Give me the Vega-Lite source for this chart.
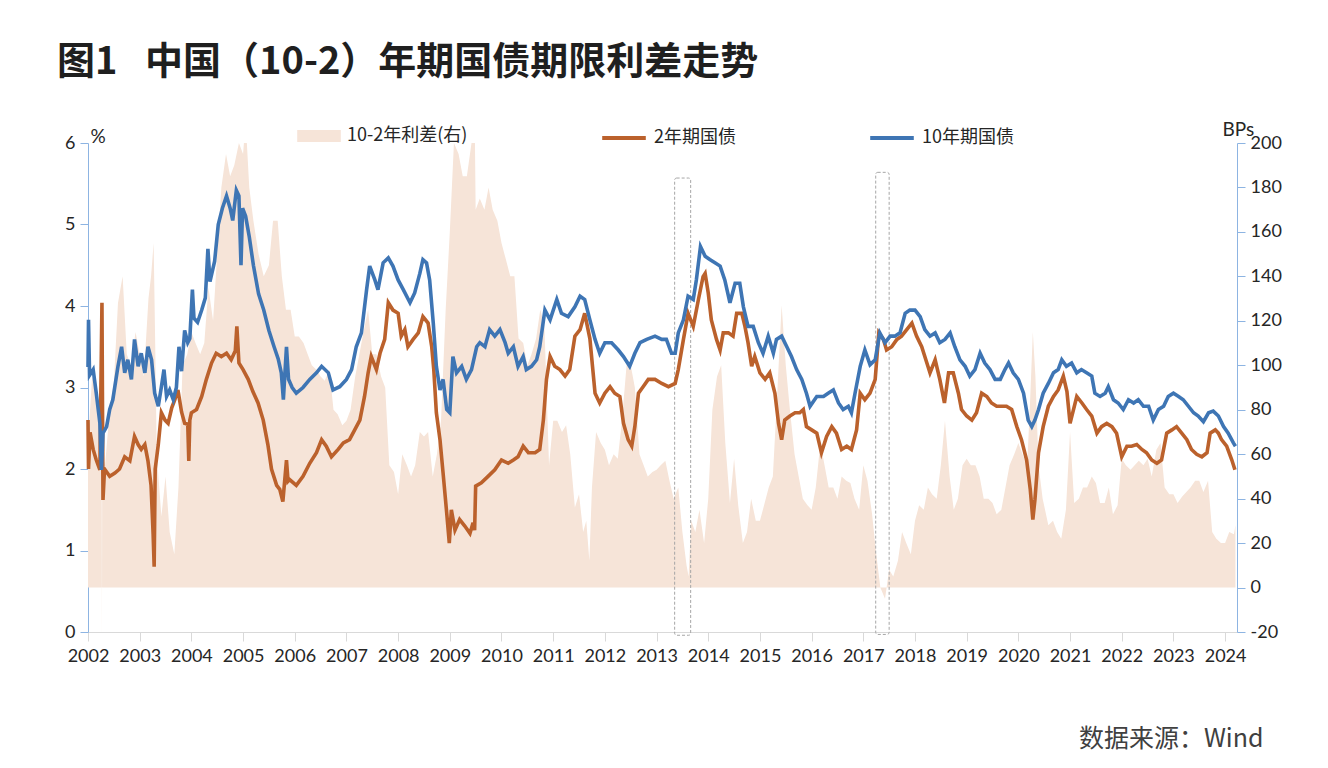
{
"$schema":"https://vega.github.io/schema/vega-lite/v6.json",
"width":1149,"height":489,
"autosize":{"type":"none"},
"padding":{"left":88,"top":143,"right":91,"bottom":136},
"background":"white",
"title":{"text":"图1\u2002 中国（10-2）年期国债期限利差走势","anchor":"start","frame":"group","dx":-31,"offset":2,"font":"Noto Sans CJK SC","fontSize":38,"fontWeight":"bold","color":"#1f1f1f","baseline":"alphabetic"},
"config":{"view":{"stroke":null},"axis":{"grid":false,"labelFont":"Lato","labelFontSize":18,"labelColor":"#262626","titleFont":"Lato","titleFontWeight":"normal","titleColor":"#262626"},
 "legend":{"orient":"none","direction":"horizontal","title":null,"symbolSize":1900,"labelFont":"Noto Sans CJK SC","labelFontSize":18,"labelColor":"#262626","labelOffset":6,"symbolOpacity":1}},
"datasets":{
"y10":[
{"year":2002.0,"rate":3.25},{"year":2002.01,"rate":3.83},{"year":2002.03,"rate":3.15},{"year":2002.1,"rate":3.22},{"year":2002.16,"rate":2.93},{"year":2002.23,"rate":2.56},{"year":2002.26,"rate":1.99},{"year":2002.29,"rate":2.44},{"year":2002.36,"rate":2.52},{"year":2002.42,"rate":2.73},{"year":2002.48,"rate":2.85},{"year":2002.58,"rate":3.26},{"year":2002.65,"rate":3.5},{"year":2002.71,"rate":3.18},{"year":2002.77,"rate":3.34},{"year":2002.84,"rate":3.1},{"year":2002.9,"rate":3.59},{"year":2002.97,"rate":3.26},
{"year":2003.03,"rate":3.42},{"year":2003.1,"rate":3.18},{"year":2003.16,"rate":3.5},{"year":2003.23,"rate":3.34},{"year":2003.29,"rate":2.93},{"year":2003.36,"rate":2.77},{"year":2003.42,"rate":3.01},{"year":2003.47,"rate":3.22},{"year":2003.52,"rate":2.89},{"year":2003.58,"rate":2.97},{"year":2003.65,"rate":2.85},{"year":2003.71,"rate":3.0},{"year":2003.76,"rate":3.5},{"year":2003.81,"rate":3.2},{"year":2003.87,"rate":3.7},{"year":2003.93,"rate":3.55},{"year":2003.97,"rate":3.6},
{"year":2004.02,"rate":4.2},{"year":2004.05,"rate":3.85},{"year":2004.12,"rate":3.8},{"year":2004.2,"rate":3.95},{"year":2004.27,"rate":4.1},{"year":2004.32,"rate":4.7},{"year":2004.36,"rate":4.3},{"year":2004.45,"rate":4.55},{"year":2004.52,"rate":5.0},{"year":2004.6,"rate":5.2},{"year":2004.68,"rate":5.35},{"year":2004.75,"rate":5.2},{"year":2004.8,"rate":5.05},{"year":2004.87,"rate":5.42},{"year":2004.92,"rate":5.35},{"year":2004.96,"rate":4.5},{"year":2004.99,"rate":5.2},
{"year":2005.05,"rate":5.1},{"year":2005.12,"rate":4.85},{"year":2005.2,"rate":4.5},{"year":2005.3,"rate":4.15},{"year":2005.4,"rate":3.95},{"year":2005.5,"rate":3.7},{"year":2005.6,"rate":3.5},{"year":2005.68,"rate":3.35},{"year":2005.74,"rate":3.18},{"year":2005.78,"rate":2.85},{"year":2005.84,"rate":3.5},{"year":2005.88,"rate":3.1},{"year":2005.95,"rate":3.0},
{"year":2006.03,"rate":2.93},{"year":2006.16,"rate":3.0},{"year":2006.29,"rate":3.1},{"year":2006.42,"rate":3.18},{"year":2006.52,"rate":3.26},{"year":2006.65,"rate":3.18},{"year":2006.74,"rate":2.97},{"year":2006.87,"rate":3.01},
{"year":2007.0,"rate":3.1},{"year":2007.1,"rate":3.22},{"year":2007.19,"rate":3.5},{"year":2007.29,"rate":3.67},{"year":2007.39,"rate":4.2},{"year":2007.45,"rate":4.49},{"year":2007.55,"rate":4.32},{"year":2007.61,"rate":4.2},{"year":2007.71,"rate":4.53},{"year":2007.81,"rate":4.59},{"year":2007.9,"rate":4.49},
{"year":2008.0,"rate":4.32},{"year":2008.1,"rate":4.2},{"year":2008.23,"rate":4.04},{"year":2008.32,"rate":4.16},{"year":2008.42,"rate":4.4},{"year":2008.48,"rate":4.57},{"year":2008.55,"rate":4.53},{"year":2008.61,"rate":4.32},{"year":2008.68,"rate":3.79},{"year":2008.74,"rate":3.26},{"year":2008.81,"rate":2.97},{"year":2008.87,"rate":3.1},{"year":2008.94,"rate":2.73},
{"year":2009.0,"rate":2.69},{"year":2009.06,"rate":3.38},{"year":2009.13,"rate":3.18},{"year":2009.23,"rate":3.26},{"year":2009.32,"rate":3.1},{"year":2009.42,"rate":3.22},{"year":2009.52,"rate":3.5},{"year":2009.58,"rate":3.55},{"year":2009.68,"rate":3.5},{"year":2009.77,"rate":3.71},{"year":2009.87,"rate":3.63},{"year":2009.97,"rate":3.71},
{"year":2010.07,"rate":3.55},{"year":2010.13,"rate":3.42},{"year":2010.23,"rate":3.5},{"year":2010.32,"rate":3.26},{"year":2010.42,"rate":3.38},{"year":2010.48,"rate":3.22},{"year":2010.58,"rate":3.26},{"year":2010.68,"rate":3.34},{"year":2010.74,"rate":3.5},{"year":2010.84,"rate":3.95},{"year":2010.94,"rate":3.83},
{"year":2011.07,"rate":4.08},{"year":2011.16,"rate":3.91},{"year":2011.29,"rate":3.87},{"year":2011.42,"rate":3.99},{"year":2011.52,"rate":4.12},{"year":2011.61,"rate":4.08},{"year":2011.71,"rate":3.83},{"year":2011.81,"rate":3.59},{"year":2011.9,"rate":3.42},
{"year":2012.0,"rate":3.55},{"year":2012.13,"rate":3.55},{"year":2012.26,"rate":3.46},{"year":2012.36,"rate":3.38},{"year":2012.48,"rate":3.26},{"year":2012.58,"rate":3.42},{"year":2012.68,"rate":3.55},{"year":2012.81,"rate":3.59},{"year":2012.97,"rate":3.63},
{"year":2013.1,"rate":3.59},{"year":2013.19,"rate":3.59},{"year":2013.29,"rate":3.42},{"year":2013.36,"rate":3.42},{"year":2013.42,"rate":3.67},{"year":2013.52,"rate":3.83},{"year":2013.61,"rate":4.12},{"year":2013.71,"rate":4.08},{"year":2013.77,"rate":4.32},{"year":2013.85,"rate":4.73},{"year":2013.94,"rate":4.61},
{"year":2014.03,"rate":4.57},{"year":2014.13,"rate":4.53},{"year":2014.23,"rate":4.49},{"year":2014.32,"rate":4.32},{"year":2014.42,"rate":4.04},{"year":2014.52,"rate":4.28},{"year":2014.61,"rate":4.28},{"year":2014.68,"rate":3.99},{"year":2014.77,"rate":3.75},{"year":2014.87,"rate":3.75},{"year":2014.97,"rate":3.55},
{"year":2015.06,"rate":3.42},{"year":2015.16,"rate":3.63},{"year":2015.26,"rate":3.42},{"year":2015.32,"rate":3.59},{"year":2015.42,"rate":3.63},{"year":2015.52,"rate":3.5},{"year":2015.61,"rate":3.38},{"year":2015.71,"rate":3.22},{"year":2015.81,"rate":3.1},{"year":2015.9,"rate":2.93},{"year":2015.97,"rate":2.77},
{"year":2016.1,"rate":2.89},{"year":2016.23,"rate":2.89},{"year":2016.32,"rate":2.93},{"year":2016.42,"rate":2.97},{"year":2016.52,"rate":2.81},{"year":2016.61,"rate":2.73},{"year":2016.71,"rate":2.77},{"year":2016.77,"rate":2.69},{"year":2016.84,"rate":2.93},{"year":2016.94,"rate":3.26},
{"year":2017.03,"rate":3.46},{"year":2017.13,"rate":3.28},{"year":2017.23,"rate":3.34},{"year":2017.32,"rate":3.67},{"year":2017.42,"rate":3.55},{"year":2017.52,"rate":3.63},{"year":2017.61,"rate":3.63},{"year":2017.71,"rate":3.67},{"year":2017.81,"rate":3.91},{"year":2017.9,"rate":3.95},
{"year":2018.0,"rate":3.95},{"year":2018.1,"rate":3.87},{"year":2018.19,"rate":3.71},{"year":2018.29,"rate":3.63},{"year":2018.39,"rate":3.67},{"year":2018.48,"rate":3.55},{"year":2018.58,"rate":3.59},{"year":2018.68,"rate":3.67},{"year":2018.77,"rate":3.5},{"year":2018.87,"rate":3.34},{"year":2018.97,"rate":3.26},
{"year":2019.06,"rate":3.14},{"year":2019.16,"rate":3.22},{"year":2019.26,"rate":3.42},{"year":2019.35,"rate":3.3},{"year":2019.45,"rate":3.22},{"year":2019.55,"rate":3.1},{"year":2019.65,"rate":3.1},{"year":2019.74,"rate":3.22},{"year":2019.81,"rate":3.3},{"year":2019.9,"rate":3.18},
{"year":2020.0,"rate":3.1},{"year":2020.1,"rate":2.93},{"year":2020.19,"rate":2.6},{"year":2020.26,"rate":2.52},{"year":2020.32,"rate":2.6},{"year":2020.39,"rate":2.73},{"year":2020.48,"rate":2.93},{"year":2020.58,"rate":3.05},{"year":2020.68,"rate":3.18},{"year":2020.77,"rate":3.22},{"year":2020.84,"rate":3.34},{"year":2020.93,"rate":3.26},
{"year":2021.03,"rate":3.3},{"year":2021.13,"rate":3.18},{"year":2021.22,"rate":3.22},{"year":2021.32,"rate":3.18},{"year":2021.42,"rate":3.14},{"year":2021.48,"rate":2.93},{"year":2021.58,"rate":2.89},{"year":2021.68,"rate":2.93},{"year":2021.74,"rate":3.01},{"year":2021.84,"rate":2.85},{"year":2021.93,"rate":2.81},
{"year":2022.03,"rate":2.73},{"year":2022.13,"rate":2.85},{"year":2022.23,"rate":2.81},{"year":2022.32,"rate":2.85},{"year":2022.42,"rate":2.77},{"year":2022.52,"rate":2.77},{"year":2022.61,"rate":2.6},{"year":2022.71,"rate":2.73},{"year":2022.81,"rate":2.77},{"year":2022.9,"rate":2.89},
{"year":2023.0,"rate":2.93},{"year":2023.1,"rate":2.89},{"year":2023.19,"rate":2.85},{"year":2023.29,"rate":2.77},{"year":2023.39,"rate":2.69},{"year":2023.48,"rate":2.65},{"year":2023.58,"rate":2.58},{"year":2023.68,"rate":2.69},{"year":2023.77,"rate":2.71},{"year":2023.87,"rate":2.65},{"year":2023.97,"rate":2.52},
{"year":2024.06,"rate":2.44},{"year":2024.16,"rate":2.32},{"year":2024.2,"rate":2.28}
],
"y2":[
{"year":2002.0,"rate":2.6},{"year":2002.01,"rate":2.0},{"year":2002.04,"rate":2.45},{"year":2002.1,"rate":2.24},{"year":2002.16,"rate":2.11},{"year":2002.23,"rate":1.99},{"year":2002.27,"rate":4.04},{"year":2002.29,"rate":1.62},{"year":2002.32,"rate":2.0},{"year":2002.42,"rate":1.91},{"year":2002.52,"rate":1.95},{"year":2002.61,"rate":2.0},{"year":2002.71,"rate":2.15},{"year":2002.81,"rate":2.1},{"year":2002.9,"rate":2.4},{"year":2002.97,"rate":2.3},
{"year":2003.03,"rate":2.24},{"year":2003.1,"rate":2.3},{"year":2003.16,"rate":2.1},{"year":2003.22,"rate":1.8},{"year":2003.26,"rate":1.2},{"year":2003.28,"rate":0.8},{"year":2003.3,"rate":2.0},{"year":2003.36,"rate":2.3},{"year":2003.42,"rate":2.69},{"year":2003.49,"rate":2.6},{"year":2003.55,"rate":2.56},{"year":2003.62,"rate":2.75},{"year":2003.68,"rate":2.85},{"year":2003.74,"rate":2.97},{"year":2003.81,"rate":2.7},{"year":2003.87,"rate":2.56},{"year":2003.93,"rate":2.55},{"year":2003.95,"rate":2.1},{"year":2003.97,"rate":2.6},
{"year":2004.0,"rate":2.69},{"year":2004.1,"rate":2.73},{"year":2004.2,"rate":2.89},{"year":2004.29,"rate":3.1},{"year":2004.39,"rate":3.3},{"year":2004.48,"rate":3.42},{"year":2004.58,"rate":3.38},{"year":2004.68,"rate":3.42},{"year":2004.77,"rate":3.34},{"year":2004.85,"rate":3.45},{"year":2004.88,"rate":3.75},{"year":2004.92,"rate":3.3},
{"year":2005.0,"rate":3.22},{"year":2005.1,"rate":3.1},{"year":2005.19,"rate":2.95},{"year":2005.29,"rate":2.81},{"year":2005.39,"rate":2.6},{"year":2005.48,"rate":2.3},{"year":2005.55,"rate":2.0},{"year":2005.65,"rate":1.8},{"year":2005.71,"rate":1.75},{"year":2005.77,"rate":1.6},{"year":2005.84,"rate":2.11},{"year":2005.87,"rate":1.85},{"year":2005.9,"rate":1.87},
{"year":2006.03,"rate":1.8},{"year":2006.16,"rate":1.91},{"year":2006.29,"rate":2.07},{"year":2006.42,"rate":2.2},{"year":2006.52,"rate":2.36},{"year":2006.61,"rate":2.28},{"year":2006.71,"rate":2.15},{"year":2006.84,"rate":2.24},{"year":2006.94,"rate":2.32},
{"year":2007.06,"rate":2.36},{"year":2007.16,"rate":2.48},{"year":2007.26,"rate":2.6},{"year":2007.35,"rate":2.89},{"year":2007.42,"rate":3.18},{"year":2007.48,"rate":3.38},{"year":2007.58,"rate":3.22},{"year":2007.65,"rate":3.42},{"year":2007.74,"rate":3.59},{"year":2007.81,"rate":4.04},{"year":2007.9,"rate":3.95},
{"year":2008.0,"rate":3.91},{"year":2008.06,"rate":3.63},{"year":2008.13,"rate":3.71},{"year":2008.19,"rate":3.5},{"year":2008.29,"rate":3.59},{"year":2008.39,"rate":3.67},{"year":2008.48,"rate":3.87},{"year":2008.58,"rate":3.79},{"year":2008.65,"rate":3.5},{"year":2008.69,"rate":3.22},{"year":2008.74,"rate":2.69},{"year":2008.81,"rate":2.36},{"year":2008.87,"rate":1.95},{"year":2008.94,"rate":1.46},{"year":2008.99,"rate":1.09},
{"year":2009.03,"rate":1.5},{"year":2009.1,"rate":1.25},{"year":2009.19,"rate":1.38},{"year":2009.29,"rate":1.3},{"year":2009.39,"rate":1.21},{"year":2009.45,"rate":1.34},{"year":2009.48,"rate":1.25},{"year":2009.5,"rate":1.79},{"year":2009.61,"rate":1.83},{"year":2009.74,"rate":1.91},{"year":2009.87,"rate":1.99},
{"year":2010.0,"rate":2.11},{"year":2010.13,"rate":2.07},{"year":2010.23,"rate":2.11},{"year":2010.32,"rate":2.15},{"year":2010.42,"rate":2.28},{"year":2010.52,"rate":2.2},{"year":2010.65,"rate":2.2},{"year":2010.74,"rate":2.24},{"year":2010.81,"rate":2.6},{"year":2010.87,"rate":3.1},{"year":2010.94,"rate":3.38},
{"year":2011.03,"rate":3.26},{"year":2011.13,"rate":3.22},{"year":2011.23,"rate":3.14},{"year":2011.32,"rate":3.22},{"year":2011.42,"rate":3.63},{"year":2011.52,"rate":3.71},{"year":2011.61,"rate":3.91},{"year":2011.71,"rate":3.6},{"year":2011.81,"rate":2.93},{"year":2011.9,"rate":2.81},
{"year":2012.0,"rate":2.93},{"year":2012.1,"rate":3.01},{"year":2012.19,"rate":2.93},{"year":2012.29,"rate":2.89},{"year":2012.36,"rate":2.56},{"year":2012.45,"rate":2.36},{"year":2012.52,"rate":2.28},{"year":2012.58,"rate":2.52},{"year":2012.65,"rate":2.93},{"year":2012.74,"rate":3.01},{"year":2012.84,"rate":3.1},{"year":2012.97,"rate":3.1},
{"year":2013.1,"rate":3.05},{"year":2013.23,"rate":3.01},{"year":2013.36,"rate":3.05},{"year":2013.42,"rate":3.22},{"year":2013.52,"rate":3.59},{"year":2013.61,"rate":3.91},{"year":2013.71,"rate":3.75},{"year":2013.81,"rate":4.08},{"year":2013.9,"rate":4.36},{"year":2013.94,"rate":4.4},
{"year":2014.0,"rate":4.16},{"year":2014.06,"rate":3.83},{"year":2014.16,"rate":3.59},{"year":2014.23,"rate":3.46},{"year":2014.29,"rate":3.67},{"year":2014.39,"rate":3.67},{"year":2014.48,"rate":3.63},{"year":2014.55,"rate":3.91},{"year":2014.65,"rate":3.91},{"year":2014.71,"rate":3.75},{"year":2014.77,"rate":3.55},{"year":2014.84,"rate":3.26},{"year":2014.9,"rate":3.38},
{"year":2015.0,"rate":3.18},{"year":2015.1,"rate":3.1},{"year":2015.19,"rate":3.18},{"year":2015.29,"rate":2.93},{"year":2015.36,"rate":2.56},{"year":2015.42,"rate":2.36},{"year":2015.48,"rate":2.6},{"year":2015.58,"rate":2.65},{"year":2015.68,"rate":2.69},{"year":2015.77,"rate":2.69},{"year":2015.84,"rate":2.73},{"year":2015.9,"rate":2.52},
{"year":2016.0,"rate":2.48},{"year":2016.1,"rate":2.44},{"year":2016.19,"rate":2.2},{"year":2016.29,"rate":2.4},{"year":2016.39,"rate":2.52},{"year":2016.48,"rate":2.44},{"year":2016.58,"rate":2.24},{"year":2016.68,"rate":2.28},{"year":2016.77,"rate":2.24},{"year":2016.87,"rate":2.48},{"year":2016.94,"rate":2.93},
{"year":2017.03,"rate":2.85},{"year":2017.13,"rate":2.93},{"year":2017.23,"rate":3.1},{"year":2017.3,"rate":3.67},{"year":2017.39,"rate":3.59},{"year":2017.45,"rate":3.46},{"year":2017.55,"rate":3.5},{"year":2017.65,"rate":3.59},{"year":2017.74,"rate":3.63},{"year":2017.84,"rate":3.71},{"year":2017.94,"rate":3.79},
{"year":2018.03,"rate":3.63},{"year":2018.13,"rate":3.5},{"year":2018.23,"rate":3.3},{"year":2018.29,"rate":3.18},{"year":2018.39,"rate":3.34},{"year":2018.48,"rate":3.1},{"year":2018.57,"rate":2.81},{"year":2018.65,"rate":3.18},{"year":2018.74,"rate":3.18},{"year":2018.84,"rate":2.93},{"year":2018.9,"rate":2.73},
{"year":2019.0,"rate":2.65},{"year":2019.1,"rate":2.6},{"year":2019.19,"rate":2.69},{"year":2019.29,"rate":2.93},{"year":2019.39,"rate":2.89},{"year":2019.48,"rate":2.81},{"year":2019.58,"rate":2.77},{"year":2019.68,"rate":2.77},{"year":2019.77,"rate":2.77},{"year":2019.87,"rate":2.73},{"year":2019.97,"rate":2.52},
{"year":2020.06,"rate":2.36},{"year":2020.16,"rate":2.11},{"year":2020.23,"rate":1.75},{"year":2020.28,"rate":1.38},{"year":2020.32,"rate":1.62},{"year":2020.39,"rate":2.2},{"year":2020.48,"rate":2.52},{"year":2020.58,"rate":2.77},{"year":2020.68,"rate":2.89},{"year":2020.77,"rate":2.97},{"year":2020.87,"rate":3.14},{"year":2020.94,"rate":2.95},
{"year":2021.0,"rate":2.56},{"year":2021.13,"rate":2.89},{"year":2021.23,"rate":2.81},{"year":2021.32,"rate":2.73},{"year":2021.42,"rate":2.65},{"year":2021.52,"rate":2.44},{"year":2021.61,"rate":2.52},{"year":2021.71,"rate":2.56},{"year":2021.81,"rate":2.52},{"year":2021.9,"rate":2.44},
{"year":2022.0,"rate":2.15},{"year":2022.1,"rate":2.28},{"year":2022.19,"rate":2.28},{"year":2022.29,"rate":2.3},{"year":2022.39,"rate":2.24},{"year":2022.48,"rate":2.2},{"year":2022.58,"rate":2.11},{"year":2022.68,"rate":2.07},{"year":2022.77,"rate":2.11},{"year":2022.87,"rate":2.44},{"year":2022.97,"rate":2.48},
{"year":2023.06,"rate":2.52},{"year":2023.16,"rate":2.44},{"year":2023.26,"rate":2.36},{"year":2023.35,"rate":2.24},{"year":2023.45,"rate":2.18},{"year":2023.55,"rate":2.15},{"year":2023.65,"rate":2.2},{"year":2023.71,"rate":2.44},{"year":2023.81,"rate":2.48},{"year":2023.87,"rate":2.44},{"year":2023.93,"rate":2.36},
{"year":2024.03,"rate":2.28},{"year":2024.13,"rate":2.11},{"year":2024.19,"rate":1.99}
],
"spread":[
{"year":2002.0,"bp":65},{"year":2002.04,"bp":80},{"year":2002.08,"bp":95},{"year":2002.17,"bp":85},{"year":2002.23,"bp":57},{"year":2002.265,"bp":60},{"year":2002.27,"bp":-30},{"year":2002.275,"bp":60},{"year":2002.33,"bp":55},{"year":2002.42,"bp":80},{"year":2002.5,"bp":92},{"year":2002.58,"bp":128},{"year":2002.67,"bp":140},{"year":2002.75,"bp":105},{"year":2002.83,"bp":100},{"year":2002.92,"bp":115},
{"year":2003.0,"bp":105},{"year":2003.08,"bp":95},{"year":2003.17,"bp":130},{"year":2003.22,"bp":140},{"year":2003.27,"bp":155},{"year":2003.3,"bp":110},{"year":2003.33,"bp":60},{"year":2003.42,"bp":32},{"year":2003.5,"bp":50},{"year":2003.58,"bp":25},{"year":2003.67,"bp":15},{"year":2003.75,"bp":45},{"year":2003.83,"bp":100},{"year":2003.92,"bp":105},
{"year":2004.0,"bp":115},{"year":2004.08,"bp":110},{"year":2004.17,"bp":105},{"year":2004.25,"bp":110},{"year":2004.33,"bp":135},{"year":2004.42,"bp":120},{"year":2004.5,"bp":150},{"year":2004.58,"bp":180},{"year":2004.67,"bp":195},{"year":2004.75,"bp":185},{"year":2004.83,"bp":190},{"year":2004.92,"bp":200},
{"year":2005.0,"bp":195},{"year":2005.05,"bp":210},{"year":2005.12,"bp":180},{"year":2005.2,"bp":165},{"year":2005.3,"bp":150},{"year":2005.4,"bp":140},{"year":2005.5,"bp":145},{"year":2005.58,"bp":165},{"year":2005.67,"bp":165},{"year":2005.75,"bp":140},{"year":2005.83,"bp":125},{"year":2005.92,"bp":125},
{"year":2006.0,"bp":113},{"year":2006.08,"bp":113},{"year":2006.17,"bp":110},{"year":2006.25,"bp":105},{"year":2006.33,"bp":100},{"year":2006.42,"bp":98},{"year":2006.5,"bp":95},{"year":2006.58,"bp":93},{"year":2006.67,"bp":98},{"year":2006.75,"bp":80},{"year":2006.83,"bp":78},{"year":2006.92,"bp":73},
{"year":2007.0,"bp":75},{"year":2007.08,"bp":80},{"year":2007.17,"bp":95},{"year":2007.25,"bp":105},{"year":2007.33,"bp":115},{"year":2007.42,"bp":125},{"year":2007.5,"bp":105},{"year":2007.58,"bp":105},{"year":2007.67,"bp":95},{"year":2007.75,"bp":90},{"year":2007.83,"bp":55},{"year":2007.92,"bp":52},
{"year":2008.0,"bp":42},{"year":2008.08,"bp":60},{"year":2008.17,"bp":55},{"year":2008.25,"bp":50},{"year":2008.33,"bp":55},{"year":2008.42,"bp":70},{"year":2008.5,"bp":68},{"year":2008.58,"bp":70},{"year":2008.67,"bp":50},{"year":2008.75,"bp":60},{"year":2008.83,"bp":75},{"year":2008.92,"bp":125},
{"year":2009.0,"bp":160},{"year":2009.04,"bp":180},{"year":2009.08,"bp":200},{"year":2009.17,"bp":195},{"year":2009.25,"bp":185},{"year":2009.33,"bp":185},{"year":2009.42,"bp":200},{"year":2009.48,"bp":215},{"year":2009.5,"bp":170},{"year":2009.58,"bp":175},{"year":2009.67,"bp":170},{"year":2009.75,"bp":180},{"year":2009.83,"bp":170},{"year":2009.92,"bp":165},
{"year":2010.0,"bp":155},{"year":2010.08,"bp":148},{"year":2010.17,"bp":140},{"year":2010.25,"bp":140},{"year":2010.33,"bp":112},{"year":2010.42,"bp":110},{"year":2010.5,"bp":100},{"year":2010.58,"bp":105},{"year":2010.67,"bp":112},{"year":2010.75,"bp":125},{"year":2010.83,"bp":118},{"year":2010.92,"bp":55},
{"year":2011.0,"bp":75},{"year":2011.08,"bp":75},{"year":2011.17,"bp":70},{"year":2011.25,"bp":73},{"year":2011.33,"bp":60},{"year":2011.42,"bp":36},{"year":2011.5,"bp":42},{"year":2011.58,"bp":25},{"year":2011.64,"bp":30},{"year":2011.7,"bp":12},{"year":2011.75,"bp":45},{"year":2011.83,"bp":70},{"year":2011.92,"bp":65},
{"year":2012.0,"bp":62},{"year":2012.08,"bp":55},{"year":2012.17,"bp":60},{"year":2012.25,"bp":58},{"year":2012.33,"bp":75},{"year":2012.42,"bp":100},{"year":2012.5,"bp":100},{"year":2012.58,"bp":90},{"year":2012.67,"bp":60},{"year":2012.75,"bp":55},{"year":2012.83,"bp":50},{"year":2012.92,"bp":52},
{"year":2013.0,"bp":53},{"year":2013.08,"bp":55},{"year":2013.17,"bp":57},{"year":2013.25,"bp":48},{"year":2013.33,"bp":40},{"year":2013.42,"bp":45},{"year":2013.5,"bp":25},{"year":2013.58,"bp":10},{"year":2013.62,"bp":5},{"year":2013.67,"bp":30},{"year":2013.75,"bp":25},{"year":2013.83,"bp":35},{"year":2013.92,"bp":20},
{"year":2014.0,"bp":40},{"year":2014.08,"bp":80},{"year":2014.17,"bp":95},{"year":2014.25,"bp":100},{"year":2014.33,"bp":65},{"year":2014.42,"bp":38},{"year":2014.5,"bp":58},{"year":2014.58,"bp":37},{"year":2014.67,"bp":20},{"year":2014.75,"bp":25},{"year":2014.83,"bp":40},{"year":2014.92,"bp":30},
{"year":2015.0,"bp":30},{"year":2015.08,"bp":37},{"year":2015.17,"bp":45},{"year":2015.25,"bp":50},{"year":2015.33,"bp":85},{"year":2015.42,"bp":127},{"year":2015.5,"bp":100},{"year":2015.58,"bp":80},{"year":2015.67,"bp":60},{"year":2015.75,"bp":50},{"year":2015.83,"bp":40},{"year":2015.92,"bp":37},
{"year":2016.0,"bp":35},{"year":2016.08,"bp":45},{"year":2016.17,"bp":65},{"year":2016.25,"bp":55},{"year":2016.33,"bp":45},{"year":2016.42,"bp":45},{"year":2016.5,"bp":40},{"year":2016.58,"bp":50},{"year":2016.67,"bp":48},{"year":2016.75,"bp":47},{"year":2016.83,"bp":40},{"year":2016.92,"bp":35},
{"year":2017.0,"bp":55},{"year":2017.08,"bp":48},{"year":2017.17,"bp":33},{"year":2017.25,"bp":15},{"year":2017.33,"bp":0},{"year":2017.42,"bp":-5},{"year":2017.5,"bp":8},{"year":2017.58,"bp":5},{"year":2017.67,"bp":12},{"year":2017.75,"bp":25},{"year":2017.83,"bp":20},{"year":2017.92,"bp":15},
{"year":2018.0,"bp":30},{"year":2018.08,"bp":37},{"year":2018.17,"bp":35},{"year":2018.25,"bp":45},{"year":2018.33,"bp":42},{"year":2018.42,"bp":40},{"year":2018.5,"bp":55},{"year":2018.58,"bp":75},{"year":2018.67,"bp":50},{"year":2018.75,"bp":35},{"year":2018.83,"bp":40},{"year":2018.92,"bp":55},
{"year":2019.0,"bp":58},{"year":2019.08,"bp":55},{"year":2019.17,"bp":55},{"year":2019.25,"bp":50},{"year":2019.33,"bp":40},{"year":2019.42,"bp":40},{"year":2019.5,"bp":38},{"year":2019.58,"bp":33},{"year":2019.67,"bp":35},{"year":2019.75,"bp":45},{"year":2019.83,"bp":55},{"year":2019.92,"bp":60},
{"year":2020.0,"bp":65},{"year":2020.08,"bp":60},{"year":2020.17,"bp":55},{"year":2020.22,"bp":80},{"year":2020.28,"bp":115},{"year":2020.33,"bp":95},{"year":2020.39,"bp":55},{"year":2020.47,"bp":40},{"year":2020.58,"bp":28},{"year":2020.67,"bp":30},{"year":2020.75,"bp":25},{"year":2020.83,"bp":22},{"year":2020.92,"bp":35},
{"year":2021.0,"bp":70},{"year":2021.08,"bp":38},{"year":2021.17,"bp":40},{"year":2021.25,"bp":45},{"year":2021.33,"bp":45},{"year":2021.42,"bp":50},{"year":2021.5,"bp":47},{"year":2021.58,"bp":38},{"year":2021.67,"bp":38},{"year":2021.75,"bp":45},{"year":2021.83,"bp":33},{"year":2021.92,"bp":37},
{"year":2022.0,"bp":58},{"year":2022.08,"bp":55},{"year":2022.17,"bp":53},{"year":2022.25,"bp":55},{"year":2022.33,"bp":57},{"year":2022.42,"bp":55},{"year":2022.5,"bp":58},{"year":2022.58,"bp":50},{"year":2022.67,"bp":62},{"year":2022.75,"bp":65},{"year":2022.83,"bp":45},{"year":2022.92,"bp":42},
{"year":2023.0,"bp":42},{"year":2023.08,"bp":38},{"year":2023.17,"bp":41},{"year":2023.25,"bp":43},{"year":2023.33,"bp":45},{"year":2023.42,"bp":48},{"year":2023.5,"bp":48},{"year":2023.58,"bp":43},{"year":2023.67,"bp":48},{"year":2023.75,"bp":25},{"year":2023.83,"bp":22},{"year":2023.92,"bp":20},
{"year":2024.0,"bp":20},{"year":2024.08,"bp":25},{"year":2024.17,"bp":24},{"year":2024.2,"bp":28}
],
"boxes":[{"start":2013.35,"end":2013.66,"low":-0.04,"high":5.57},{"start":2017.24,"end":2017.5,"low":-0.03,"high":5.64}]
},
"layer":[
{"data":{"name":"spread"},
 "mark":{"type":"area","clip":true,"opacity":1,"interpolate":"linear"},
 "encoding":{
  "x":{"field":"year","type":"quantitative","scale":{"domain":[2002,2024.23],"nice":false,"zero":false},
       "axis":{"values":[2002,2003,2004,2005,2006,2007,2008,2009,2010,2011,2012,2013,2014,2015,2016,2017,2018,2019,2020,2021,2022,2023,2024],"format":"d","domainColor":"#d9d9d9","tickColor":"#d9d9d9","tickSize":9,"labelPadding":6,"labelFlush":false,"labelOverlap":false,
       "title":"数据来源：Wind","titleFont":"Noto Sans CJK SC","titleFontSize":25,"titleColor":"#404040","titleX":1175,"titleY":114,"titleAlign":"right","titleBaseline":"alphabetic"}},
  "y":{"field":"bp","type":"quantitative","scale":{"domain":[-20,200],"nice":false,"zero":true},
       "axis":{"orient":"right","values":[-20,0,20,40,60,80,100,120,140,160,180,200],"labelExpr":"'' + datum.value","domainColor":"#8db4e2","tickColor":"#8db4e2","tickSize":8,"labelPadding":5,
       "title":"BPs","titleAngle":0,"titleX":-15,"titleY":-8,"titleAlign":"left","titleBaseline":"alphabetic","titleFontSize":19}},
  "color":{"datum":"10-2年利差(右)","type":"nominal","scale":{"range":["#f6e4d8"]},
       "legend":{"legendX":209,"legendY":-29,"symbolType":"M-1,-0.28H1V0.28H-1Z","symbolStrokeWidth":0}}
 }},
{"layer":[
 {"data":{"name":"boxes"},
  "mark":{"type":"rect","fill":null,"stroke":"#a6a6a6","strokeWidth":1,"strokeDash":[3,2],"cornerRadius":2},
  "encoding":{"x":{"field":"start","type":"quantitative"},"x2":{"field":"end"},
   "y":{"field":"low","type":"quantitative"},"y2":{"field":"high"}}},
 {"data":{"name":"y2"},
  "mark":{"type":"line","strokeWidth":3.6,"interpolate":"linear"},
  "encoding":{"x":{"field":"year","type":"quantitative"},
   "y":{"field":"rate","type":"quantitative","scale":{"domain":[0,6],"nice":false},
        "axis":{"orient":"left","values":[0,1,2,3,4,5,6],"format":"d","domainColor":"#8db4e2","tickColor":"#8db4e2","tickSize":8,"labelPadding":5,
        "title":"%","titleAngle":0,"titleX":2,"titleY":-1,"titleAlign":"left","titleBaseline":"alphabetic","titleFontSize":19}},
   "color":{"datum":"2年期国债","type":"nominal","scale":{"range":["#bb612c"]},
       "legend":{"legendX":512,"legendY":-29,"symbolType":"stroke","symbolStrokeWidth":4}}}},
 {"data":{"name":"y10"},
  "mark":{"type":"line","strokeWidth":3.6,"interpolate":"linear"},
  "encoding":{"x":{"field":"year","type":"quantitative"},
   "y":{"field":"rate","type":"quantitative"},
   "color":{"datum":"10年期国债","type":"nominal","scale":{"range":["#3e75b4"]},
       "legend":{"legendX":780,"legendY":-29,"symbolType":"stroke","symbolStrokeWidth":4}}}}
 ],
 "resolve":{"scale":{"color":"independent"}}}
],
"resolve":{"scale":{"y":"independent","color":"independent"}}
}
